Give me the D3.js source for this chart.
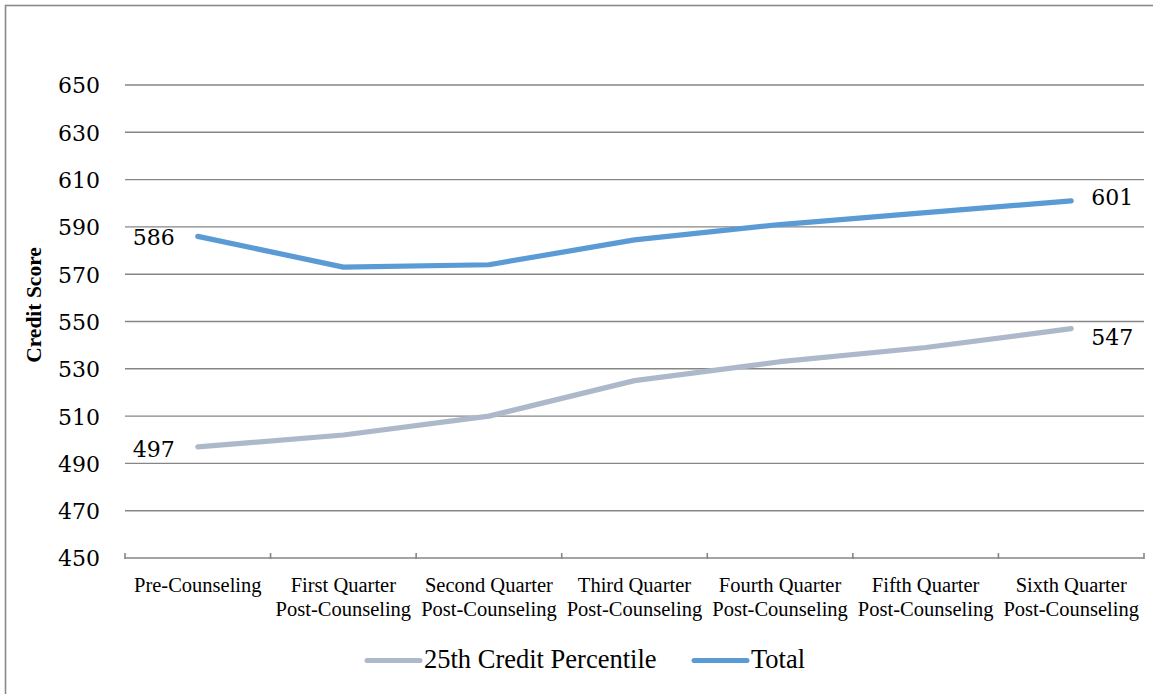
<!DOCTYPE html>
<html>
<head>
<meta charset="utf-8">
<script src="https://cdn.jsdelivr.net/npm/d3@7"></script>
<style>
  html, body { margin: 0; padding: 0; background: #fff; }
  svg { display: block; }
</style>
</head>
<body>
<svg id="chart" width="1153" height="694"></svg>
<script>
// Credit score trend after counseling
const categories = [
  ["Pre-Counseling"],
  ["First Quarter", "Post-Counseling"],
  ["Second Quarter", "Post-Counseling"],
  ["Third Quarter", "Post-Counseling"],
  ["Fourth Quarter", "Post-Counseling"],
  ["Fifth Quarter", "Post-Counseling"],
  ["Sixth Quarter", "Post-Counseling"]
];
const percentile25 = [497, 502, 510, 525, 533, 539, 547];
const total = [586, 573, 574, 584.5, 591, 596, 601];
const yTicks = [450, 470, 490, 510, 530, 550, 570, 590, 610, 630, 650];
const seriesNames = ["25th Credit Percentile", "Total"];
const seriesColors = ["#ADB9CA", "#5B9BD5"];

const svg = d3.select("#chart");

// outer chart frame (continues past the right and bottom edges)
svg.append("rect")
  .attr("x", 5.5).attr("y", 5.5)
  .attr("width", 1200).attr("height", 720)
  .attr("fill", "none").attr("stroke", "#8a8a8a").attr("stroke-width", 1.6);

const plot = { left: 125, right: 1144, top: 85, bottom: 558 };

const x = d3.scaleBand()
  .domain(d3.range(categories.length))
  .range([plot.left, plot.right])
  .paddingInner(0).paddingOuter(0);

const y = d3.scaleLinear()
  .domain([450, 650])
  .range([plot.bottom, plot.top]);

// horizontal gridlines
svg.append("g")
  .selectAll("line")
  .data(yTicks.filter(t => t !== 450))
  .join("line")
  .attr("x1", plot.left).attr("x2", plot.right)
  .attr("y1", d => y(d)).attr("y2", d => y(d))
  .attr("stroke", "#868686").attr("stroke-width", 1.4);

// y tick labels
const yAxis = d3.axisLeft(y).tickValues(yTicks).tickSize(0).tickPadding(0);
const gy = svg.append("g")
  .attr("transform", `translate(${plot.left - 25},0)`)
  .call(yAxis);
gy.select(".domain").remove();
gy.selectAll("text")
  .attr("font-family", "DejaVu Serif")
  .attr("font-size", 22)
  .attr("fill", "#000")
  .attr("dy", "0.36em");

// x axis baseline with tick marks at category boundaries
svg.append("line")
  .attr("x1", plot.left).attr("x2", plot.right)
  .attr("y1", plot.bottom).attr("y2", plot.bottom)
  .attr("stroke", "#868686").attr("stroke-width", 1.6);
const boundaries = d3.range(categories.length + 1).map(i =>
  i < categories.length ? x(i) : x(categories.length - 1) + x.bandwidth());
svg.append("g")
  .selectAll("line")
  .data(boundaries)
  .join("line")
  .attr("x1", d => d).attr("x2", d => d)
  .attr("y1", plot.bottom - 5).attr("y2", plot.bottom + 1)
  .attr("stroke", "#868686").attr("stroke-width", 1.6);

// x category labels
const xl = svg.append("g")
  .selectAll("text")
  .data(categories)
  .join("text")
  .attr("x", (d, i) => x(i) + x.bandwidth() / 2)
  .attr("y", 591.5)
  .attr("text-anchor", "middle")
  .attr("font-family", "Liberation Serif")
  .attr("font-size", 20.5)
  .attr("fill", "#000");
xl.selectAll("tspan")
  .data(d => d)
  .join("tspan")
  .attr("x", function () { return d3.select(this.parentNode).attr("x"); })
  .attr("dy", (d, i) => i === 0 ? 0 : 24)
  .text(d => d);

// y axis title
svg.append("text")
  .attr("transform", "translate(41,305) rotate(-90)")
  .attr("text-anchor", "middle")
  .attr("font-family", "Liberation Serif")
  .attr("font-weight", "bold")
  .attr("font-size", 21.5)
  .attr("fill", "#000")
  .text("Credit Score");

// series lines
const line = d3.line()
  .x((d, i) => x(i) + x.bandwidth() / 2)
  .y(d => y(d));

[percentile25, total].forEach((vals, k) => {
  svg.append("path")
    .datum(vals)
    .attr("d", line)
    .attr("fill", "none")
    .attr("stroke", seriesColors[k])
    .attr("stroke-width", 5.2)
    .attr("stroke-linecap", "round")
    .attr("stroke-linejoin", "round");
});

// end-point value labels
const last = categories.length - 1;
const endLabels = [
  { v: total[0], i: 0, side: "left", dy: 1 },
  { v: percentile25[0], i: 0, side: "left", dy: 2 },
  { v: total[last], i: last, side: "right", dy: -4 },
  { v: percentile25[last], i: last, side: "right", dy: 8 }
];
svg.append("g")
  .selectAll("text")
  .data(endLabels)
  .join("text")
  .attr("x", d => x(d.i) + x.bandwidth() / 2 + (d.side === "left" ? -23 : 20))
  .attr("y", d => y(d.v) + d.dy)
  .attr("dy", "0.36em")
  .attr("text-anchor", d => d.side === "left" ? "end" : "start")
  .attr("font-family", "DejaVu Serif")
  .attr("font-size", 22)
  .attr("fill", "#000")
  .text(d => Math.round(d.v));

// legend
const legend = svg.append("g");
const legendY = 660.5;
const itemX = [365, 692];
seriesNames.forEach((name, k) => {
  legend.append("line")
    .attr("x1", itemX[k] + 2).attr("x2", itemX[k] + 55)
    .attr("y1", legendY).attr("y2", legendY)
    .attr("stroke", seriesColors[k])
    .attr("stroke-width", 5)
    .attr("stroke-linecap", "round");
  legend.append("text")
    .attr("x", itemX[k] + 59)
    .attr("y", legendY + 7.5)
    .attr("font-family", "Liberation Serif")
    .attr("font-size", 26.5)
    .attr("fill", "#000")
    .text(name);
});
</script>
</body>
</html>
